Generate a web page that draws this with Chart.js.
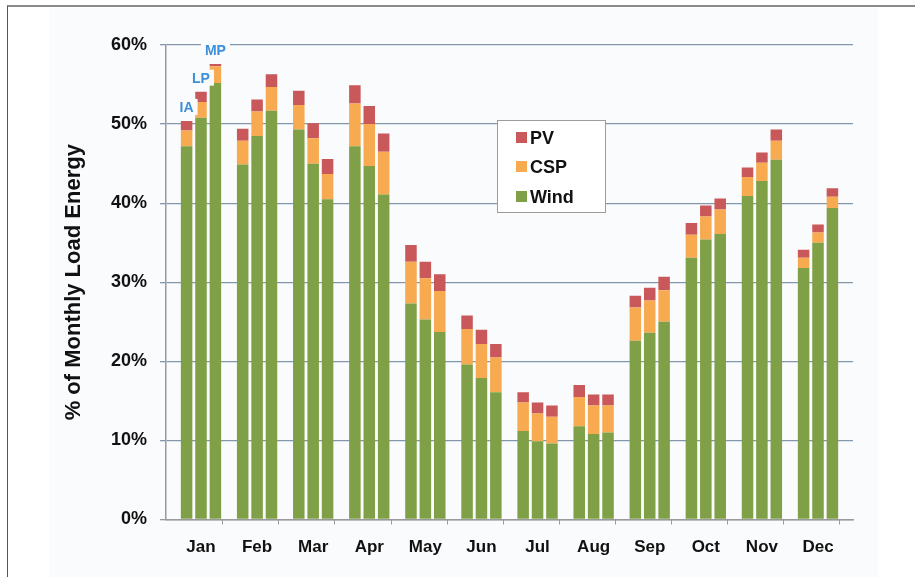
<!DOCTYPE html>
<html>
<head>
<meta charset="utf-8">
<script src="https://cdn.jsdelivr.net/npm/chart.js@4"></script>
<style>
    body { margin: 0; background: #fff; }
    #wrap { position: relative; width: 915px; height: 577px; overflow: hidden; }
    .frame { position: absolute; left: 7px; top: 5px; right: -5px; bottom: -5px; border-left: 1px solid #555; border-top: 2px solid #8a8a8a; }
    .panel { position: absolute; left: 49px; top: 8px; width: 829px; height: 569px; background: #fafbfd; }
    canvas { position: absolute; left: 0; top: 0; }
</style>
</head>
<body>
<div id="wrap">
    <div class="frame"></div>
    <div class="panel"></div>
    <canvas id="loadChart" width="915" height="577"></canvas>
</div>
<script>
// Meses e valores (% da energia mensal) por cenario: IA, LP, MP
const months = ['Jan', 'Feb', 'Mar', 'Apr', 'May', 'Jun', 'Jul', 'Aug', 'Sep', 'Oct', 'Nov', 'Dec'];
const scenarios = ['IA', 'LP', 'MP'];
const yTicks = [0, 10, 20, 30, 40, 50, 60];

const windIA = [47.2, 44.9, 49.3, 47.2, 27.3, 19.6, 11.2, 11.8, 22.6, 33.1, 40.9, 31.8];
const cspIA  = [2.0, 3.0, 3.1, 5.4, 5.3, 4.5, 3.6, 3.7, 4.2, 2.9, 2.4, 1.3];
const pvIA   = [1.2, 1.5, 1.8, 2.3, 2.1, 1.7, 1.3, 1.5, 1.5, 1.5, 1.2, 1.0];

const windLP = [50.8, 48.5, 45.0, 44.7, 25.3, 17.9, 9.9, 10.8, 23.6, 35.4, 42.8, 35.0];
const cspLP  = [2.0, 3.1, 3.2, 5.3, 5.2, 4.3, 3.5, 3.6, 4.1, 2.9, 2.3, 1.3];
const pvLP   = [1.3, 1.5, 1.9, 2.3, 2.1, 1.8, 1.4, 1.4, 1.6, 1.4, 1.3, 1.0];

const windMP = [55.2, 51.7, 40.5, 41.1, 23.7, 16.1, 9.6, 11.0, 25.0, 36.1, 45.5, 39.4];
const cspMP  = [2.1, 3.0, 3.2, 5.4, 5.2, 4.4, 3.4, 3.4, 4.0, 3.1, 2.4, 1.4];
const pvMP   = [0.3, 1.6, 1.9, 2.3, 2.1, 1.7, 1.4, 1.4, 1.7, 1.4, 1.4, 1.1];

const colors = {
    wind: '#7fa046',
    csp: '#f7aa50',
    pv: '#c9585b',
    grid: '#8397ab',
    axis: '#9a9a9a',
    label: '#3d8fd9',
    text: '#111111'
};
const FONT = "'Liberation Sans', Arial, sans-serif";

function points(arr) {
    return arr.map((v, i) => ({ x: i, y: v }));
}

const series = {
    IA: { Wind: windIA, CSP: cspIA, PV: pvIA },
    LP: { Wind: windLP, CSP: cspLP, PV: pvLP },
    MP: { Wind: windMP, CSP: cspMP, PV: pvMP }
};
const sourceColors = { Wind: colors.wind, CSP: colors.csp, PV: colors.pv };

const datasets = [];
scenarios.forEach(sc => {
    ['Wind', 'CSP', 'PV'].forEach(src => {
        datasets.push({
            label: src + ' ' + sc,
            data: points(series[sc][src]),
            stack: sc,
            backgroundColor: sourceColors[src],
            borderWidth: 0,
            categoryPercentage: 0.77,
            barPercentage: 0.8
        });
    });
});

// Legenda dentro da area do grafico
const legendBox = {
    id: 'legendBox',
    afterDraw(chart) {
        const ctx = chart.ctx;
        ctx.save();
        ctx.fillStyle = '#ffffff';
        ctx.fillRect(497, 120, 108, 92);
        ctx.strokeStyle = '#9c9c9c';
        ctx.lineWidth = 1;
        ctx.strokeRect(497.5, 120.5, 108, 92);
        const items = [['PV', colors.pv, 138], ['CSP', colors.csp, 167], ['Wind', colors.wind, 197]];
        ctx.font = 'bold 18px ' + FONT;
        ctx.textBaseline = 'middle';
        items.forEach(([name, c, y]) => {
            ctx.fillStyle = c;
            ctx.fillRect(516, y - 6, 11, 11);
            ctx.fillStyle = colors.text;
            ctx.fillText(name, 530, y + 1);
        });
        ctx.restore();
    }
};

// Rotulos IA / LP / MP acima das barras de janeiro + marcas do eixo x
const extras = {
    id: 'extras',
    afterDatasetsDraw(chart) {
        const ctx = chart.ctx;
        const area = chart.chartArea;
        const xs = chart.scales.x;
        ctx.save();
        ctx.strokeStyle = colors.axis;
        ctx.lineWidth = 1;
        for (let i = 0; i < months.length; i++) {
            const x = Math.round(xs.getPixelForValue(i + 0.38)) + 0.5;
            ctx.beginPath();
            ctx.moveTo(x, area.bottom);
            ctx.lineTo(x, area.bottom + 5);
            ctx.stroke();
        }
        ctx.font = 'bold 14px ' + FONT;
        ctx.textAlign = 'center';
        ctx.textBaseline = 'middle';
        scenarios.forEach((sc, k) => {
            const meta = chart.getDatasetMeta(k * 3 + 2);
            const bar = meta.data[0];
            const y = bar.y - 14;
            const w = ctx.measureText(sc).width;
            ctx.fillStyle = '#fafbfd';
            ctx.fillRect(bar.x - w / 2 - 4, y - 8, w + 8, 16);
            ctx.fillStyle = colors.label;
            ctx.fillText(sc, bar.x, y + 1);
        });
        ctx.restore();
    }
};

const chart = new Chart(document.getElementById('loadChart').getContext('2d'), {
    type: 'bar',
    data: { datasets: datasets },
    options: {
        responsive: false,
        animation: false,
        layout: { padding: { left: 0, top: 45, right: 62, bottom: 0 } },
        plugins: {
            legend: { display: false },
            tooltip: { enabled: false }
        },
        scales: {
            x: {
                type: 'linear',
                offset: false,
                min: -0.624,
                max: 11.624,
                grid: { display: true, drawOnChartArea: false, drawTicks: false },
                border: { color: colors.axis, width: 1.5 },
                ticks: {
                    stepSize: 1,
                    includeBounds: false,
                    autoSkip: false,
                    maxRotation: 0,
                    padding: 18,
                    color: colors.text,
                    font: { family: FONT, size: 17, weight: 'bold' },
                    callback: v => Number.isInteger(v) ? months[v] : ''
                },
                afterFit: scale => { scale.height = 57.5; }
            },
            y: {
                stacked: true,
                min: yTicks[0],
                max: yTicks[yTicks.length - 1],
                afterBuildTicks: scale => { scale.ticks = yTicks.map(v => ({ value: v })); },
                grid: {
                    color: ctx => ctx.tick && ctx.tick.value === 0 ? colors.axis : colors.grid,
                    lineWidth: 1.3,
                    tickLength: 6
                },
                border: { color: colors.axis, width: 1.5 },
                ticks: {
                    padding: 13,
                    color: colors.text,
                    font: { family: FONT, size: 18, weight: 'bold' },
                    callback: v => v + '%'
                },
                title: {
                    display: true,
                    text: '% of Monthly Load Energy',
                    color: colors.text,
                    font: { family: FONT, size: 22, weight: 'bold' },
                    padding: { top: 61, bottom: 0 }
                },
                afterFit: scale => { scale.width = 166; }
            }
        }
    },
    plugins: [legendBox, extras]
});
</script>
</body>
</html>
